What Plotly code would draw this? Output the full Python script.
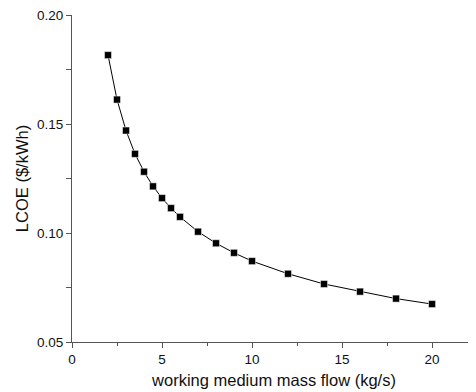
import plotly.graph_objects as go

mass_flow = [2, 2.5, 3, 3.5, 4, 4.5, 5, 5.5, 6, 7, 8, 9, 10, 12, 14, 16, 18, 20]
lcoe = [0.1816, 0.1612, 0.1470, 0.1363, 0.1281, 0.1214, 0.1160, 0.1114, 0.1074,
        0.1006, 0.0953, 0.0909, 0.0871, 0.0813, 0.0766, 0.0731, 0.0699, 0.0674]

x_ticks = [0, 5, 10, 15, 20]
y_ticks = [0.05, 0.10, 0.15, 0.20]
y_tick_labels = ["0.05", "0.10", "0.15", "0.20"]

fig = go.Figure()
fig.add_trace(go.Scatter(
    x=mass_flow, y=lcoe, mode="lines+markers",
    line=dict(color="black", width=1),
    marker=dict(symbol="square", size=7, color="black",
                line=dict(color="white", width=0.5)),
    showlegend=False,
))

font_family = "Liberation Sans, Arial, sans-serif"
axis_color = "#555555"

# page body has an 8px default margin; figure is sized to fit the window
fig.update_layout(
    width=468, height=384,
    margin=dict(l=64, r=0, t=7, b=50, autoexpand=False),
    paper_bgcolor="white", plot_bgcolor="white",
    font=dict(family=font_family, color="#111111"),
    xaxis=dict(
        range=[0, 22.44], tickvals=x_ticks, ticks="outside", ticklen=5,
        tickwidth=1, tickcolor=axis_color,
        showline=True, linecolor=axis_color, linewidth=1,
        showgrid=False, zeroline=False,
        tickfont=dict(size=13.5, family=font_family),
        title=dict(text="working medium mass flow (kg/s)",
                   font=dict(size=16.5, family=font_family), standoff=8),
        minor=dict(ticks="outside", ticklen=3, dtick=2.5, tick0=0,
                   tickcolor=axis_color, showgrid=False),
    ),
    yaxis=dict(
        range=[0.05, 0.20], tickvals=y_ticks, ticktext=y_tick_labels,
        ticks="outside", ticklen=5, tickwidth=1, tickcolor=axis_color,
        showline=True, linecolor=axis_color, linewidth=1,
        showgrid=False, zeroline=False, ticklabeloverflow="allow",
        tickfont=dict(size=13.5, family=font_family),
        title=dict(text="LCOE ($/kWh)",
                   font=dict(size=16.5, family=font_family), standoff=4),
        minor=dict(ticks="outside", ticklen=5, dtick=0.025, tick0=0.05,
                   tickcolor=axis_color, showgrid=False),
    ),
)

fig.write_html("out.html")
